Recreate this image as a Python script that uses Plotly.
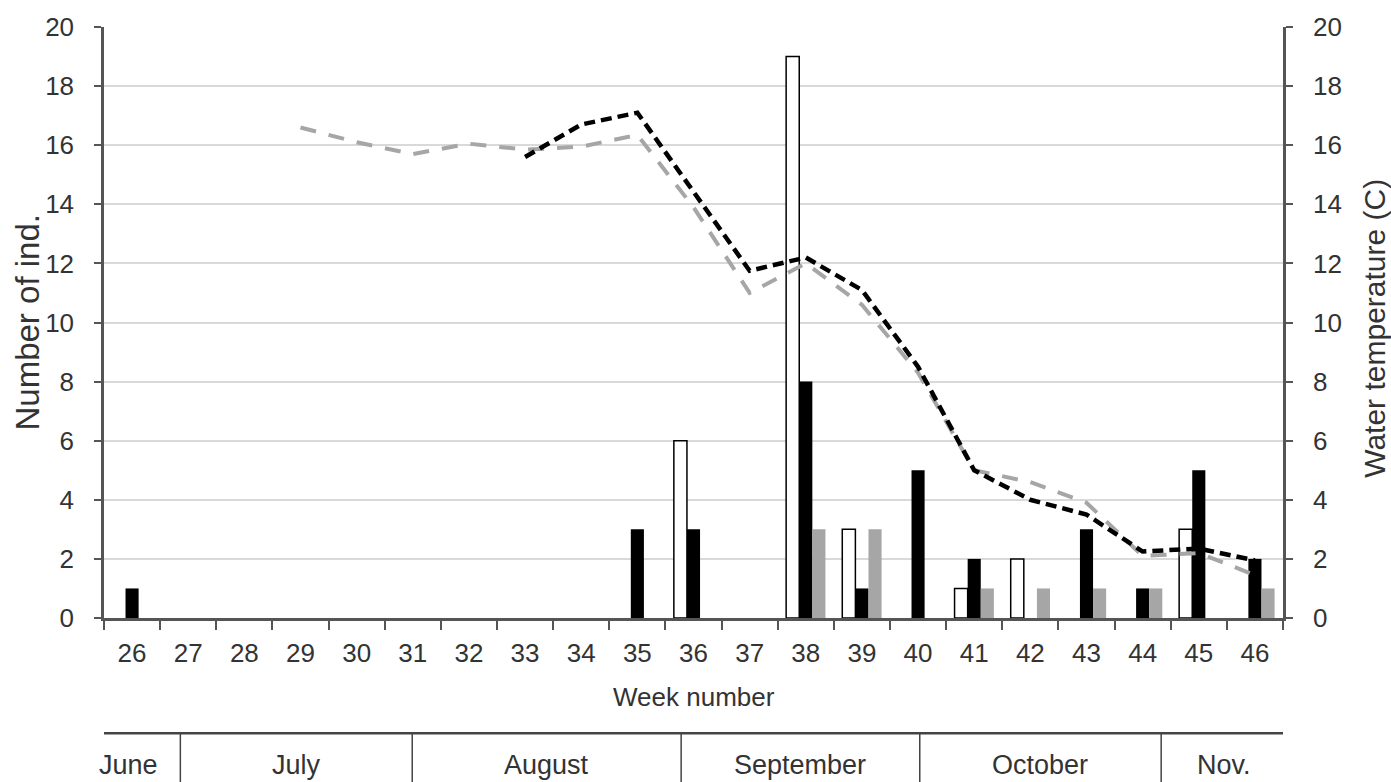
import plotly.graph_objects as go

weeks = [str(w) for w in range(26, 47)]

# Number of individuals per week (three groups)
white_counts = [None, None, None, None, None, None, None, None, None, None, 6, None, 19, 3, None, 1, 2, None, None, 3, None]
black_counts = [1, None, None, None, None, None, None, None, None, 3, 3, None, 8, 1, 5, 2, None, 3, 1, 5, 2]
gray_counts = [None, None, None, None, None, None, None, None, None, None, None, None, 3, 3, None, 1, 1, 1, 1, None, 1]

# Water temperature (C)
temp_black = [None, None, None, None, None, None, None, 15.6, 16.7, 17.1, 14.4, 11.75, 12.2, 11.1, 8.5, 5.0, 4.0, 3.5, 2.25, 2.35, 1.95]
temp_gray = [None, None, None, 16.6, 16.1, 15.7, 16.05, 15.85, 15.95, 16.35, 13.9, 11.0, 12.0, 10.6, 8.3, 5.0, 4.6, 3.9, 2.1, 2.2, 1.45]

y_ticks = list(range(0, 21, 2))

# Month band (edges in week numbers)
months = ["June", "July", "August", "September", "October", "Nov."]
month_edges = [25.43, 26.86, 30.99, 35.78, 40.03, 44.33, 46.57]

FONT = "Liberation Sans, Arial, sans-serif"
TXT = "#333333"
AXC = "#555555"
FS = 26

fig = go.Figure()
fig.add_trace(go.Bar(x=weeks, y=white_counts, name="white", marker=dict(color="white", line=dict(color="black", width=1.5))))
fig.add_trace(go.Bar(x=weeks, y=black_counts, name="black", marker=dict(color="black", line=dict(width=0))))
fig.add_trace(go.Bar(x=weeks, y=gray_counts, name="gray", marker=dict(color="#a6a6a6", line=dict(width=0))))
fig.add_trace(go.Scatter(x=weeks, y=temp_gray, mode="lines", yaxis="y2",
                         line=dict(color="#a6a6a6", width=4, dash="16px,13px"), connectgaps=False))
fig.add_trace(go.Scatter(x=weeks, y=temp_black, mode="lines", yaxis="y2",
                         line=dict(color="black", width=4.5, dash="11px,6px"), connectgaps=False))

shapes = []
w0 = 26
shapes.append(dict(type="line", xref="x", yref="paper", x0=month_edges[0] - w0, x1=month_edges[-1] - w0,
                   y0=-0.195, y1=-0.195, line=dict(color="#444444", width=2.5)))
for e in month_edges[1:-1]:
    shapes.append(dict(type="line", xref="x", yref="paper", x0=e - w0, x1=e - w0,
                       y0=-0.195, y1=-0.30, line=dict(color="#444444", width=1.5)))

annotations = []
for i, m in enumerate(months):
    cx = (month_edges[i] + month_edges[i + 1]) / 2 - w0
    if i == 0:
        cx -= 0.2
    annotations.append(dict(x=cx, y=-0.249, xref="x", yref="paper", text=m, showarrow=False,
                            font=dict(family=FONT, size=FS + 1, color=TXT), xanchor="center", yanchor="middle"))
annotations.append(dict(x=0.5, y=-0.1337, xref="paper", yref="paper", text="Week number", showarrow=False,
                        font=dict(family=FONT, size=FS, color=TXT), xanchor="center", yanchor="middle"))
annotations.append(dict(x=-0.0653, y=0.5, xref="paper", yref="paper", text="Number of ind.", showarrow=False,
                        textangle=-90, font=dict(family=FONT, size=33, color=TXT), xanchor="center", yanchor="middle"))
annotations.append(dict(x=1.0775, y=0.49, xref="paper", yref="paper", text="Water temperature (C)", showarrow=False,
                        textangle=-90, font=dict(family=FONT, size=30, color=TXT), xanchor="center", yanchor="middle"))

fig.update_layout(
    width=1391, height=782,
    margin=dict(l=104, r=108, t=27, b=164),
    paper_bgcolor="white", plot_bgcolor="white",
    barmode="group", bargap=0.3, bargroupgap=0,
    showlegend=False,
    font=dict(family=FONT, size=FS, color=TXT),
    shapes=shapes, annotations=annotations,
    xaxis=dict(type="category", categoryorder="array", categoryarray=weeks,
               tickson="boundaries", ticks="outside", ticklen=9, tickwidth=2, tickcolor=AXC,
               showline=True, linecolor=AXC, linewidth=2.5, showgrid=False, zeroline=False,
               tickfont=dict(family=FONT, size=FS, color=TXT), ticklabelstandoff=10,
               range=[-0.5, 20.5]),
    yaxis=dict(range=[0, 20], tickvals=y_ticks, ticks="outside", ticklen=7, tickwidth=2, tickcolor=AXC,
               showline=True, linecolor=AXC, linewidth=2.5, showgrid=True, gridcolor="#d9d9d9", gridwidth=1.5,
               zeroline=False, tickfont=dict(family=FONT, size=FS, color=TXT), ticklabelstandoff=15),
    yaxis2=dict(range=[0, 20], tickvals=y_ticks, overlaying="y", side="right", ticks="outside", ticklen=7,
                tickwidth=2, tickcolor=AXC, showline=True, linecolor=AXC, linewidth=2.5, showgrid=False,
                zeroline=False, tickfont=dict(family=FONT, size=FS, color=TXT), ticklabelstandoff=15),
)

fig.write_html("out.html")
